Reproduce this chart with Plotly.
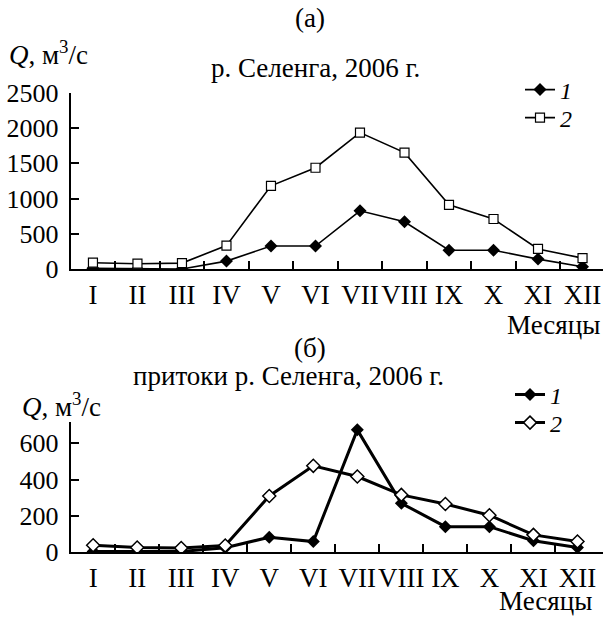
import plotly.graph_objects as go

months = ["I", "II", "III", "IV", "V", "VI", "VII", "VIII", "IX", "X", "XI", "XII"]
selenga_1 = [15, 5, 5, 116, 329, 329, 827, 673, 269, 269, 144, 37]
selenga_2 = [93, 79, 88, 335, 1180, 1436, 1933, 1650, 911, 711, 288, 158]
trib_1 = [5, 5, 5, 25, 83, 59, 674, 270, 141, 141, 64, 26]
trib_2 = [39, 26, 24, 37, 310, 476, 417, 316, 266, 204, 96, 59]
y_ticks_top = [0, 500, 1000, 1500, 2000, 2500]
y_ticks_bot = [0, 200, 400, 600]

W, H = 603, 617
FONT = "Liberation Serif"
xi = list(range(len(months)))
bounds = [i + 0.5 for i in range(len(months) - 1)]

def py(p):
    return 1 - p / H

def px(p):
    return p / W

fig = go.Figure()

fig.add_trace(go.Scatter(x=xi, y=selenga_1, mode="lines+markers", name="<i>1</i>",
                         line=dict(color="black", width=1.6),
                         marker=dict(symbol="diamond", size=10, color="black"),
                         xaxis="x", yaxis="y", legend="legend"))
fig.add_trace(go.Scatter(x=xi, y=selenga_2, mode="lines+markers", name="<i>2</i>",
                         line=dict(color="black", width=1.6),
                         marker=dict(symbol="square", size=9, color="white",
                                     line=dict(color="black", width=1.2)),
                         xaxis="x", yaxis="y", legend="legend2"))
fig.add_trace(go.Scatter(x=xi, y=trib_1, mode="lines+markers", name="<i>1</i>",
                         line=dict(color="black", width=3),
                         marker=dict(symbol="diamond", size=10, color="black"),
                         xaxis="x2", yaxis="y2", legend="legend3"))
fig.add_trace(go.Scatter(x=xi, y=trib_2, mode="lines+markers", name="<i>2</i>",
                         line=dict(color="black", width=3),
                         marker=dict(symbol="diamond", size=10, color="white",
                                     line=dict(color="black", width=1.5)),
                         xaxis="x2", yaxis="y2", legend="legend4"))

xcommon = dict(tickmode="array", tickvals=xi, ticktext=months, ticks="",
               showline=True, linecolor="black", linewidth=2, showgrid=False,
               zeroline=False, automargin=False,
               tickfont=dict(family=FONT, size=27, color="black"),
               minor=dict(tickmode="array", tickvals=bounds, ticks="inside",
                          ticklen=8, tickwidth=2, tickcolor="black", showgrid=False))
ycommon = dict(tickmode="array", ticks="inside", ticklen=8, tickwidth=2,
               tickcolor="black", showline=True, linecolor="black", linewidth=2,
               showgrid=False, zeroline=False, automargin=False,
               ticklabelstandoff=5,
               tickfont=dict(family=FONT, size=26, color="black"))

def leg(x, yc):
    return dict(x=px(x), y=py(yc), xanchor="left", yanchor="middle",
                font=dict(family=FONT, size=24, color="black"),
                bgcolor="rgba(0,0,0,0)", itemwidth=30, borderwidth=0)

fig.update_layout(
    template="none",
    width=W, height=H,
    margin=dict(l=0, r=0, t=0, b=0, pad=0),
    paper_bgcolor="white", plot_bgcolor="white",
    showlegend=True,
    xaxis=dict(xcommon, domain=[px(70.7), 1], range=[-0.5, 11.46], anchor="y"),
    yaxis=dict(ycommon, domain=[py(269.3), py(92.5)], range=[0, 2500],
               tickvals=y_ticks_top, anchor="x"),
    xaxis2=dict(xcommon, domain=[px(70.7), 1], range=[-0.51, 11.58], anchor="y2"),
    yaxis2=dict(ycommon, domain=[py(552.3), py(421.5)], range=[0, 720],
                tickvals=y_ticks_bot, anchor="x2"),
    legend=leg(520, 90),
    legend2=leg(520, 118),
    legend3=leg(510, 395),
    legend4=leg(510, 423),
)

ann_font = dict(family=FONT, size=27, color="black")
annotations = [
    dict(text="(а)", x=px(310), y=py(18)),
    dict(text="р. Селенга, 2006 г.", x=px(316), y=py(68)),
    dict(text="<i>Q</i>, м<sup>3</sup>/с", x=px(7), y=py(53), xanchor="left"),
    dict(text="Месяцы", x=px(602), y=py(325), xanchor="right"),
    dict(text="(б)", x=px(310), y=py(348)),
    dict(text="притоки р. Селенга, 2006 г.", x=px(288), y=py(376)),
    dict(text="<i>Q</i>, м<sup>3</sup>/с", x=px(20), y=py(405), xanchor="left"),
    dict(text="Месяцы", x=px(594), y=py(601), xanchor="right"),
]
for a in annotations:
    a.setdefault("xanchor", "center")
    fig.add_annotation(xref="paper", yref="paper", yanchor="middle",
                       showarrow=False, font=ann_font, **a)

fig.write_html("out.html")
